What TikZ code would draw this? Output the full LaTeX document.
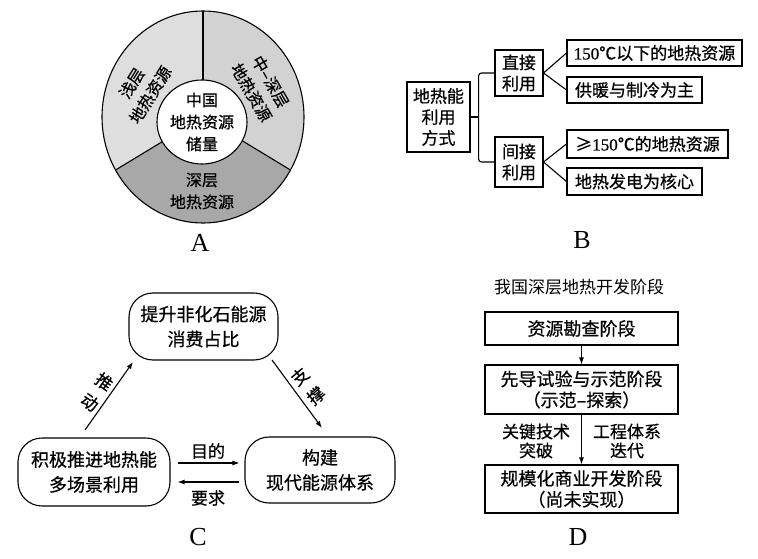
\documentclass[tikz,border=0pt]{standalone}
\usepackage{fontspec}
\usetikzlibrary{arrows.meta}
\newfontfamily\cjk{Noto Sans CJK SC}[FakeBold=0.6]
\newfontfamily\cjkl{Noto Sans CJK SC}
\newfontfamily\lat{Liberation Serif}
\newfontfamily\latb{Liberation Serif}[FakeBold=0.8]
\definecolor{secL}{HTML}{DEDEDE}
\definecolor{secR}{HTML}{D2D2D2}
\definecolor{secB}{HTML}{A8A8A8}
\begin{document}
\begin{tikzpicture}[x=1pt,y=-1pt,
  every node/.style={font=\cjk\fontsize{17}{21}\selectfont, align=center, inner sep=0pt},
  tbox/.style={draw, line width=1.1pt},
  rbox/.style={draw, line width=1.1pt, rounded corners=24pt, font=\cjk\fontsize{18}{25}\selectfont},
  conn/.style={line width=1.1pt},
  arr/.style={line width=1.1pt, -{Latex[length=7pt,width=5pt]}},
  lbl/.style={font=\lat\fontsize{26}{26}\selectfont},
  small/.style={font=\cjk\fontsize{16}{22}\selectfont}]
\useasboundingbox (0,0) rectangle (758,559);

% ---------- A ----------
\coordinate (OC) at (203,117);
\coordinate (IC) at (202,122);
\fill[secL] (OC) -- ++(90:101pt and 106pt) arc[start angle=90,end angle=210,x radius=101pt,y radius=106pt] -- cycle;
\fill[secR] (OC) -- ++(-30:101pt and 106pt) arc[start angle=-30,end angle=90,x radius=101pt,y radius=106pt] -- cycle;
\fill[secB] (OC) -- ++(210:101pt and 106pt) arc[start angle=210,end angle=330,x radius=101pt,y radius=106pt] -- cycle;
\draw[conn] (OC) -- ++(90:101pt and 106pt);
\draw[conn] (OC) -- ++(210:101pt and 106pt);
\draw[conn] (OC) -- ++(330:101pt and 106pt);
\filldraw[conn, fill=white] (IC) ellipse [x radius=45pt, y radius=42pt];
\draw[conn] (OC) ellipse [x radius=101pt, y radius=106pt];
\node[small] (ctr) at (IC) {中国\\地热资源\\储量};
\node[small, rotate=58] (shallow) at (141,89) {浅层\\地热资源};
\node[small, rotate=-60] (middeep) at (261,87) {中–深层\\地热资源};
\node[small] (deep) at (202,191) {深层\\地热资源};
\node[lbl] (la) at (200,243) {A};

% ---------- B ----------
\node[tbox, minimum width=63pt, minimum height=70pt] (root) at (438.5,117) {地热能\\利用\\方式};
\node[tbox, minimum width=48pt, minimum height=46pt] (dir) at (519,73) {直接\\利用};
\node[tbox, minimum width=48pt, minimum height=50pt] (ind) at (519,162) {间接\\利用};
\node[tbox, minimum width=175pt, minimum height=26pt] (l1) at (654.5,53) {{\latb 150}℃以下的地热资源};
\node[tbox, minimum width=135pt, minimum height=26pt] (l2) at (634.5,90) {供暖与制冷为主};
\node[tbox, minimum width=161pt, minimum height=28pt] (l3) at (647.5,144) {≥{\latb 150}℃的地热资源};
\node[tbox, minimum width=135pt, minimum height=27pt] (l4) at (634.5,181.5) {地热发电为核心};
\draw[conn] (root.east) -- ++(8,0) coordinate (br);
\draw[conn, rounded corners=3pt] (dir.west) -| (br) |- (ind.west);
\draw[conn] (l1.west) -- (dir.east) -- (l2.west);
\draw[conn] (l3.west) -- (ind.east) -- (l4.west);
\node[lbl] (lb) at (582,240) {B};

% ---------- C ----------
\node[rbox, minimum width=149pt, minimum height=67pt] (top) at (203.5,326.5) {提升非化石能源\\消费占比};
\node[rbox, minimum width=152pt, minimum height=68pt] (lft) at (94,472) {积极推进地热能\\多场景利用};
\node[rbox, minimum width=150pt, minimum height=66pt] (rgt) at (320,470) {构建\\现代能源体系};
\coordinate (p1) at (85,430);
\coordinate (p2) at (133,362);
\coordinate (q1) at (272,360);
\coordinate (q2) at (322,428);
\coordinate (mu) at (0,463);
\coordinate (md) at (0,482);
\draw[arr] (p1) -- (p2);
\draw[arr] (q1) -- (q2);
\draw[arr, shorten <=7pt, shorten >=5pt] (lft.east |- mu) -- (rgt.west |- mu);
\draw[arr, shorten <=5pt, shorten >=7pt] (rgt.west |- md) -- (lft.east |- md);
\node[font=\cjk\fontsize{17}{25}\selectfont, rotate=-35] (push) at (97,392) {推\\动};
\node[font=\cjk\fontsize{17}{25}\selectfont, rotate=40] (support) at (308,386) {支\\撑};
\node (goal) at (208,451) {目的};
\node (req) at (208,498) {要求};
\node[lbl] (lc) at (198,537) {C};

% ---------- D ----------
\node[font=\cjkl\fontsize{17}{21}\selectfont] (title) at (579,287) {我国深层地热开发阶段};
\node[tbox, minimum width=193pt, minimum height=33pt, font=\cjk\fontsize{18}{21}\selectfont] (s1) at (581.5,328.5) {资源勘查阶段};
\node[tbox, minimum width=193pt, minimum height=49pt, font=\cjk\fontsize{18}{21}\selectfont] (s2) at (581.5,389.5) {先导试验与示范阶段\\（示范–探索）};
\node[tbox, minimum width=193pt, minimum height=48pt, font=\cjk\fontsize{18}{21}\selectfont] (s3) at (581.5,489) {规模化商业开发阶段\\（尚未实现）};
\draw[arr] (s1) -- (s2);
\draw[arr] (s2) -- (s3);
\node[font=\cjk\fontsize{17}{19}\selectfont] (kt) at (536,441) {关键技术\\突破};
\node[font=\cjk\fontsize{17}{19}\selectfont] (gc) at (627,441) {工程体系\\迭代};
\node[lbl] (ld) at (578,537) {D};
\end{tikzpicture}
\end{document}
